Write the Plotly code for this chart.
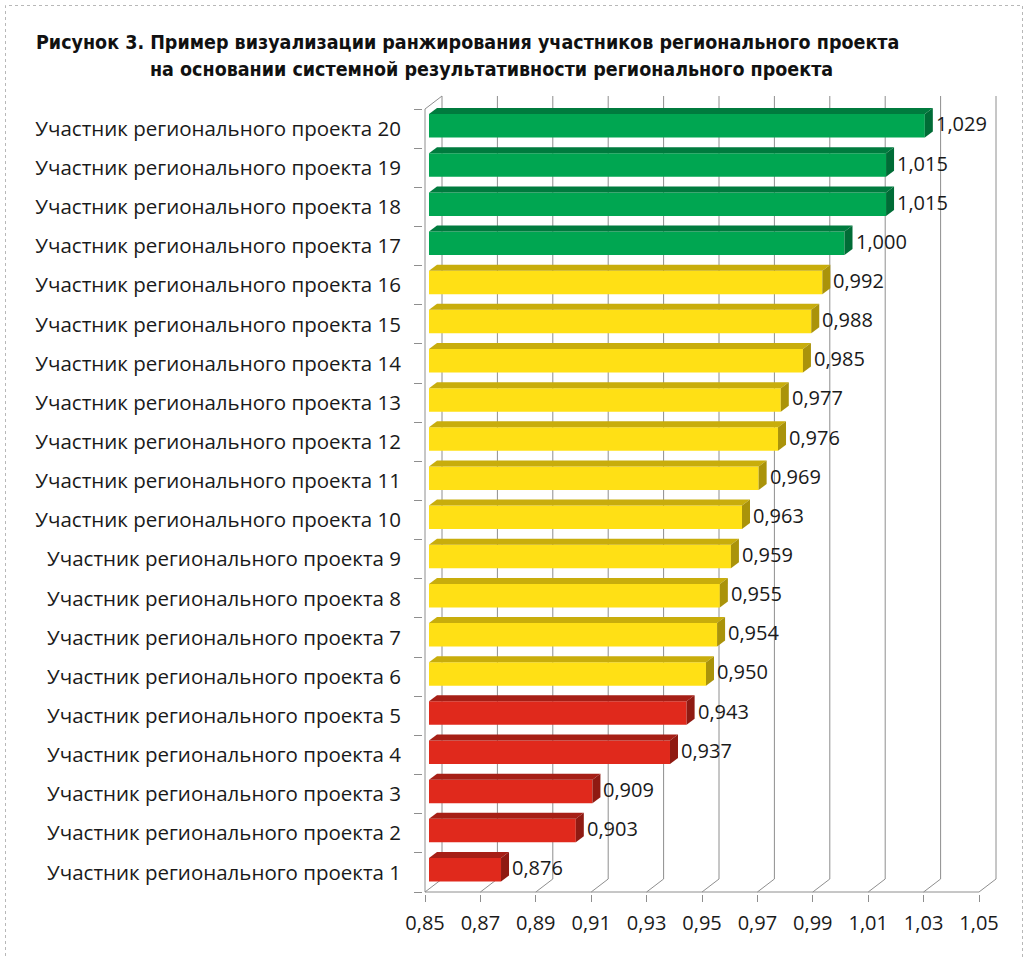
import plotly.graph_objects as go

# ---------------- data ----------------
categories = [f"Участник регионального проекта {i}" for i in range(1, 21)]
values = [0.876, 0.903, 0.909, 0.937, 0.943, 0.950, 0.954, 0.955, 0.959, 0.963,
          0.969, 0.976, 0.977, 0.985, 0.988, 0.992, 1.000, 1.015, 1.015, 1.029]
groups = ["red"] * 5 + ["yellow"] * 11 + ["green"] * 4
value_labels = [f"{v:.3f}".replace(".", ",") for v in values]
tick_vals = [0.85, 0.87, 0.89, 0.91, 0.93, 0.95, 0.97, 0.99, 1.01, 1.03, 1.05]
tick_text = ["0,85", "0,87", "0,89", "0,91", "0,93", "0,95", "0,97", "0,99", "1,01", "1,03", "1,05"]
title_line1 = "Рисунок 3. Пример визуализации ранжирования участников регионального проекта"
title_line2 = "на основании системной результативности регионального проекта"

# ---------------- style ----------------
FRONT = {"green": "#00A651", "yellow": "#FFE015", "red": "#E0291C"}
TOP = {"green": "#007B3E", "yellow": "#C8AD0C", "red": "#A61F16"}
SIDE = {"green": "#006C36", "yellow": "#AA930A", "red": "#8F1A12"}
GRID = "#8E8E8E"
FONT = "'Open Sans', 'Noto Sans', sans-serif"
TITLE_FONT = "'Liberation Sans Narrow', 'DejaVu Sans Condensed', 'Roboto Condensed', 'Noto Sans', sans-serif"

W, H = 1029, 958
X0_PX, X1_PX = 425, 979      # front positions of axis min / max
FLOOR_PX = 892               # front floor line
PITCH = 39.15                # px per category
WALL_DX_PX, WALL_DY_PX = 17, 13
BAR_DX_PX, BAR_DY_PX = 8, 6
BAR_OFF_PX = 4
PAD = 2

xmin, xmax = tick_vals[0], tick_vals[-1]
n = len(categories)
xu = (X1_PX - X0_PX) / (xmax - xmin)       # px per unit x
wdx = WALL_DX_PX / xu
wdy = WALL_DY_PX / PITCH
bdx = BAR_DX_PX / xu
bdy = BAR_DY_PX / PITCH
box = BAR_OFF_PX / xu
boy = 0.07
bw = 0.6

x_range = [xmin - PAD / xu, xmax + wdx + PAD / xu]
y_range = [-0.5 - PAD / PITCH, n - 0.5 + wdy + PAD / PITCH]
plot_w = (x_range[1] - x_range[0]) * xu
plot_h = (y_range[1] - y_range[0]) * PITCH
ml = X0_PX - PAD
mb = H - FLOOR_PX - PAD
mr = W - ml - plot_w
mt = H - mb - plot_h


def pxx(px):
    return (px - ml) / plot_w


def pxy(py):
    return (H - mb - py) / plot_h


ypos = list(range(n))

fig = go.Figure()
fig.add_trace(go.Bar(
    orientation="h",
    y=ypos,
    x=[v - xmin for v in values],
    base=xmin + box,
    width=bw,
    offset=-bw / 2 + boy,
    marker=dict(color=[FRONT[g] for g in groups], line=dict(width=0)),
    hovertext=[f"{c}: {l}" for c, l in zip(categories, value_labels)],
    hoverinfo="text",
    showlegend=False,
))

shapes = []
# back wall gridlines + floor diagonals
for t in tick_vals:
    shapes.append(dict(type="line", xref="x", yref="y", layer="below",
                       x0=t + wdx, x1=t + wdx, y0=-0.5 + wdy, y1=n - 0.5 + wdy,
                       line=dict(color=GRID, width=1)))
    shapes.append(dict(type="line", xref="x", yref="y", layer="below",
                       x0=t, x1=t + wdx, y0=-0.5, y1=-0.5 + wdy,
                       line=dict(color=GRID, width=1)))
# floor front edge
shapes.append(dict(type="line", xref="x", yref="y", layer="below",
                   x0=xmin, x1=xmax, y0=-0.5, y1=-0.5, line=dict(color=GRID, width=1)))
# left wall front edge and top diagonal
shapes.append(dict(type="line", xref="x", yref="y", layer="below",
                   x0=xmin, x1=xmin, y0=-0.5, y1=n - 0.5, line=dict(color=GRID, width=1)))
shapes.append(dict(type="line", xref="x", yref="y", layer="below",
                   x0=xmin, x1=xmin + wdx, y0=n - 0.5, y1=n - 0.5 + wdy,
                   line=dict(color=GRID, width=1)))

# 3D faces of bars
for i, (v, g) in enumerate(zip(values, groups)):
    x0 = xmin + box
    x1 = v + box
    yb = i - bw / 2 + boy
    yt = yb + bw
    top_path = (f"M{x0},{yt} L{x1},{yt} L{x1 + bdx},{yt + bdy} L{x0 + bdx},{yt + bdy} Z")
    side_path = (f"M{x1},{yb} L{x1},{yt} L{x1 + bdx},{yt + bdy} L{x1 + bdx},{yb + bdy} Z")
    shapes.append(dict(type="path", xref="x", yref="y", layer="above", path=top_path,
                       fillcolor=TOP[g], line=dict(width=0)))
    shapes.append(dict(type="path", xref="x", yref="y", layer="above", path=side_path,
                       fillcolor=SIDE[g], line=dict(width=0)))

# dotted chart border
shapes.append(dict(type="rect", xref="paper", yref="paper", layer="above",
                   x0=pxx(5.5), x1=pxx(1022.5), y0=pxy(990), y1=pxy(5.5),
                   line=dict(color="#B8B8B8", width=1, dash="dot")))

annotations = []
for i, (v, lab) in enumerate(zip(values, value_labels)):
    annotations.append(dict(x=v + box + bdx, y=i + boy + 0.05, xref="x", yref="y",
                            text=lab, showarrow=False, xanchor="left", yanchor="middle",
                            xshift=1, font=dict(family=FONT, size=20, color="#1a1a1a")))

annotations.append(dict(x=pxx(467), y=pxy(43), xref="paper", yref="paper",
                        text=f"<b>{title_line1}</b>", showarrow=False,
                        xanchor="center", yanchor="middle",
                        font=dict(family=TITLE_FONT, size=19.5, color="#111111")))
annotations.append(dict(x=pxx(492), y=pxy(70), xref="paper", yref="paper",
                        text=f"<b>{title_line2}</b>", showarrow=False,
                        xanchor="center", yanchor="middle",
                        font=dict(family=TITLE_FONT, size=19.5, color="#111111")))

fig.update_layout(
    width=W, height=H,
    margin=dict(l=ml, r=mr, t=mt, b=mb, pad=0),
    paper_bgcolor="white", plot_bgcolor="white",
    shapes=shapes, annotations=annotations,
    bargap=0.4,
    xaxis=dict(range=x_range, tickvals=tick_vals, ticktext=tick_text,
               showgrid=False, zeroline=False, showline=False,
               ticks="outside", ticklen=7, tickcolor=GRID, tickwidth=1,
               tickfont=dict(family=FONT, size=20, color="#1a1a1a"),
               ticklabelstandoff=4, fixedrange=True),
    yaxis=dict(range=y_range, tickvals=ypos, ticktext=categories,
               showgrid=False, zeroline=False, showline=False,
               ticks="", ticklen=0,
               minor=dict(tickvals=[i - 0.5 for i in range(n + 1)], ticks="outside",
                          ticklen=8, tickcolor=GRID, tickwidth=1, showgrid=False),
               tickfont=dict(family=FONT, size=20.5, color="#1a1a1a"),
               ticklabelstandoff=21, fixedrange=True),
)

fig.write_html("out.html")
